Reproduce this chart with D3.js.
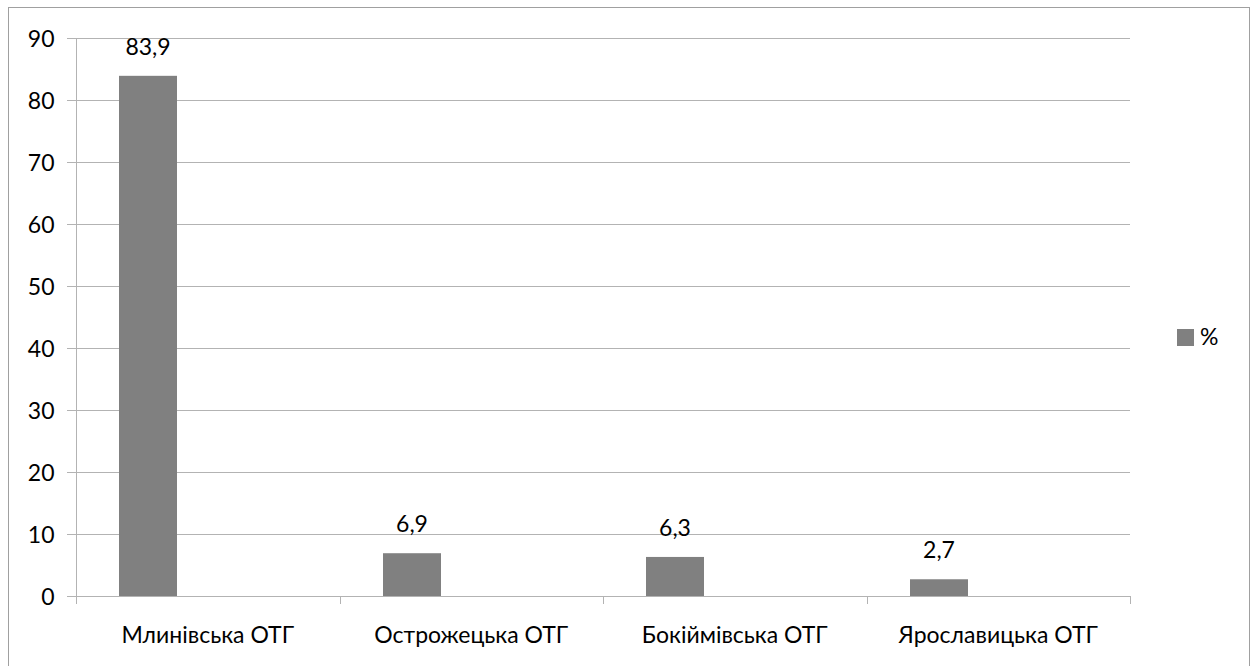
<!DOCTYPE html>
<html>
<head>
<meta charset="utf-8">
<script src="https://cdn.jsdelivr.net/npm/d3@7"></script>
<style>
  html, body { margin: 0; padding: 0; background: #fff; }
  svg { display: block; }
  text { font-family: Lato, "Open Sans", sans-serif; fill: #000; }
</style>
</head>
<body>
<script>
// Share by community (%)
const categories = ["Млинівська ОТГ", "Острожецька ОТГ", "Бокіймівська ОТГ", "Ярославицька ОТГ"];
const values = [83.9, 6.9, 6.3, 2.7];
const valueLabels = ["83,9", "6,9", "6,3", "2,7"];
const yTicks = [0, 10, 20, 30, 40, 50, 60, 70, 80, 90];
const seriesName = "%";

const W = 1257, H = 666;
const plot = { left: 76, right: 1130, top: 38, bottom: 596 };
const barColor = "#808080";
const gridColor = "#b3b3b3";
const fontSize = 23;

const svg = d3.select("body").append("svg")
  .attr("width", W).attr("height", H);

// chart frame
svg.append("rect")
  .attr("x", 8.5).attr("y", 7.5)
  .attr("width", 1241).attr("height", 700)
  .attr("fill", "none").attr("stroke", "#a0a0a0").attr("stroke-width", 1);

const x = d3.scaleBand()
  .domain(categories)
  .range([plot.left, plot.right])
  .paddingInner(0).paddingOuter(0);

const y = d3.scaleLinear()
  .domain([0, 90])
  .range([plot.bottom, plot.top]);

// horizontal gridlines
svg.append("g")
  .selectAll("line")
  .data(yTicks)
  .join("line")
  .attr("x1", plot.left - 9).attr("x2", plot.right)
  .attr("y1", d => Math.round(y(d)) + 0.5)
  .attr("y2", d => Math.round(y(d)) + 0.5)
  .attr("stroke", gridColor).attr("stroke-width", 1);

// y axis
const yAxis = d3.axisLeft(y).tickValues(yTicks).tickSize(0).tickPadding(22);
const yg = svg.append("g")
  .attr("transform", `translate(${plot.left + 0.5},0.5)`)
  .call(yAxis);
yg.select(".domain").attr("stroke", gridColor).attr("d", `M0,${plot.top}V${plot.bottom + 7}`);
yg.selectAll("text")
  .attr("font-family", "Lato, sans-serif")
  .attr("font-size", fontSize)
  .attr("dy", "0.36em")
  .attr("fill", "#000");

// x axis category boundary ticks
const xg = svg.append("g");
const boundaries = categories.map(c => x(c)).concat([plot.right]);
xg.selectAll("line.tick")
  .data(boundaries)
  .join("line")
  .attr("class", "tick")
  .attr("x1", d => Math.round(d) + 0.5).attr("x2", d => Math.round(d) + 0.5)
  .attr("y1", plot.bottom).attr("y2", plot.bottom + 8)
  .attr("stroke", gridColor);

xg.selectAll("text")
  .data(categories)
  .join("text")
  .attr("x", d => x(d) + x.bandwidth() / 2)
  .attr("y", 643)
  .attr("text-anchor", "middle")
  .attr("font-size", fontSize)
  .text(d => d);

// bars (first slot of a two-slot cluster)
const barW = 58;
const barOffset = 43;
svg.append("g")
  .selectAll("rect")
  .data(values)
  .join("rect")
  .attr("x", (d, i) => Math.round(x(categories[i]) + barOffset))
  .attr("width", barW)
  .attr("y", d => y(d))
  .attr("height", d => y(0) - y(d))
  .attr("fill", barColor);

// value labels
svg.append("g")
  .selectAll("text")
  .data(values)
  .join("text")
  .attr("x", (d, i) => Math.round(x(categories[i]) + barOffset) + barW / 2)
  .attr("y", d => y(d) - 21)
  .attr("text-anchor", "middle")
  .attr("font-size", fontSize)
  .text((d, i) => valueLabels[i]);

// legend
const lg = svg.append("g").attr("transform", "translate(1177,329)");
lg.append("rect").attr("width", 17).attr("height", 17).attr("fill", barColor);
lg.append("text").attr("x", 23).attr("y", 16).attr("font-size", fontSize).text(seriesName);
</script>
</body>
</html>
